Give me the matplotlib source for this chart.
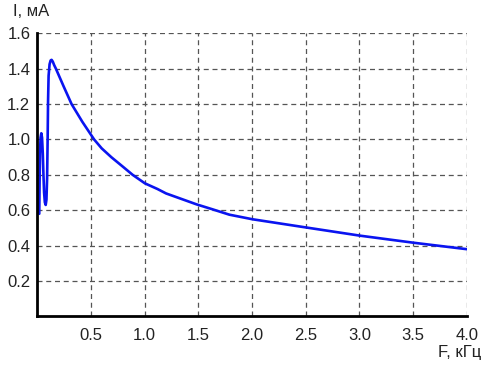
import matplotlib
matplotlib.use("Agg")
import matplotlib.pyplot as plt

plt.rcParams['font.family'] = ['Liberation Sans', 'DejaVu Sans']

freq_khz = [0.019, 0.022, 0.026, 0.031, 0.038, 0.045, 0.052, 0.058, 0.064, 0.071,
            0.079, 0.086, 0.092, 0.097, 0.101, 0.106, 0.115, 0.125, 0.134, 0.145,
            0.158, 0.174, 0.246, 0.32, 0.42, 0.53, 0.60, 0.69, 0.80, 0.889, 1.003,
            1.12, 1.2, 1.485, 1.634, 1.789, 2.005, 2.5, 3.01, 3.51, 4.0]
current_ma = [0.58, 0.75, 0.92, 1.01, 1.035, 1.01, 0.92, 0.80, 0.70, 0.645,
              0.630, 0.66, 0.78, 1.00, 1.22, 1.36, 1.425, 1.447, 1.450, 1.44,
              1.42, 1.40, 1.30, 1.20, 1.10, 1.00, 0.95, 0.90, 0.845, 0.80, 0.752,
              0.72, 0.695, 0.633, 0.605, 0.575, 0.549, 0.503, 0.456, 0.416, 0.38]

x_ticks = [0.5, 1.0, 1.5, 2.0, 2.5, 3.0, 3.5, 4.0]
x_labels = ['0.5', '1.0', '1.5', '2.0', '2.5', '3.0', '3.5', '4.0']
y_ticks = [0.2, 0.4, 0.6, 0.8, 1.0, 1.2, 1.4, 1.6]
y_labels = ['0.2', '0.4', '0.6', '0.8', '1.0', '1.2', '1.4', '1.6']

fig = plt.figure(figsize=(4.84, 3.66), dpi=100)
ax = fig.add_axes([0.0769, 0.1355, 0.8874, 0.7735])

ax.plot(freq_khz, current_ma, color='#0a14f0', lw=1.9, solid_joinstyle='round',
        solid_capstyle='round', zorder=3)

ax.set_xlim(0, 4.0)
ax.set_ylim(0, 1.6)
ax.set_xticks(x_ticks)
ax.set_xticklabels(x_labels)
ax.set_yticks(y_ticks)
ax.set_yticklabels(y_labels)
ax.tick_params(length=0, labelsize=12, colors='#222222', pad=5)
ax.tick_params(axis='x', pad=8)

ax.grid(True, color='#555555', linestyle=(0, (4, 3)), linewidth=0.9)
for s in ['top', 'right']:
    ax.spines[s].set_visible(False)
for s in ['left', 'bottom']:
    ax.spines[s].set_color('black')
    ax.spines[s].set_linewidth(2)
    ax.spines[s].set_zorder(4)

fig.text(13 / 484, 1 - 12 / 366, 'I, мА', ha='left', va='center', fontsize=12, color='#222222')
fig.text(481 / 484, 1 - 352 / 366, 'F, кГц', ha='right', va='center', fontsize=12, color='#222222')

fig.savefig('out.png', dpi=100)
